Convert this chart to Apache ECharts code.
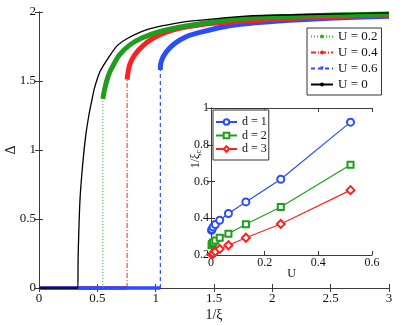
<!DOCTYPE html>
<html>
<head>
<meta charset="utf-8">
<script src="https://cdn.jsdelivr.net/npm/echarts@6/dist/echarts.min.js"></script>
<style>
  html, body { margin: 0; padding: 0; background: #fff; }
  #chart { width: 415px; height: 326px; }
</style>
</head>
<body>
<div id="chart"></div>
<script>
// main plot: Delta vs 1/xi
const curveU0 = [[0, 0], [0.333, 0], [0.335, 0.2], [0.341, 0.4], [0.352, 0.65], [0.375, 0.9], [0.4, 1.1],
  [0.427, 1.25], [0.453, 1.36], [0.476, 1.45], [0.524, 1.57], [0.604, 1.68], [0.675, 1.76], [0.761, 1.81],
  [0.919, 1.87], [1.09, 1.905], [1.26, 1.93], [1.5, 1.95], [1.78, 1.97], [2.2, 1.98], [2.6, 1.987], [3, 1.993]];
const curveU02 = [[0.547, 1.37], [0.56, 1.43], [0.58, 1.5], [0.604, 1.56], [0.64, 1.62], [0.69, 1.69],
  [0.776, 1.76], [0.876, 1.81], [1.03, 1.857], [1.2, 1.89], [1.5, 1.93], [1.78, 1.955], [2.2, 1.97],
  [2.6, 1.98], [3, 1.985]];
const curveU04 = [[0.755, 1.51], [0.776, 1.615], [0.819, 1.688], [0.89, 1.755], [0.976, 1.809],
  [1.09, 1.853], [1.204, 1.882], [1.49, 1.918], [2.06, 1.95], [2.5, 1.966], [3, 1.978]];
const curveU06 = [[1.04, 1.58], [1.047, 1.64], [1.09, 1.71], [1.16, 1.77], [1.26, 1.82], [1.347, 1.845],
  [1.633, 1.9], [2.06, 1.935], [2.49, 1.955], [3, 1.97]];
const jumpU02 = [[0.547, 0], [0.547, 1.37]];
const jumpU04 = [[0.755, 0], [0.755, 1.51]];
const jumpU06 = [[1.04, 0], [1.04, 1.58]];
const zeroU02 = [[0, 0], [0.547, 0]];
const zeroU04 = [[0, 0], [0.755, 0]];
const zeroU06 = [[0, 0], [1.04, 0]];
const mainXTicks = [0, 0.5, 1, 1.5, 2, 2.5, 3];
const mainYTicks = [0, 0.5, 1, 1.5, 2];

// inset: 1/xi_c vs U
const uVals = [0.002, 0.004, 0.008, 0.016, 0.0325, 0.065, 0.13, 0.26, 0.52];
const invXiD1 = [0.334, 0.34, 0.353, 0.366, 0.389, 0.426, 0.489, 0.612, 0.923];
const invXiD2 = [0.253, 0.26, 0.268, 0.279, 0.294, 0.316, 0.367, 0.461, 0.691];
const invXiD3 = [0.198, 0.202, 0.21, 0.219, 0.233, 0.253, 0.294, 0.369, 0.553];

const serif = "'Liberation Serif', 'DejaVu Serif', serif";
const axisColor = '#3a3a3a';
const blue = '#2a4bff';
const green = '#1d9e1d';
const red = '#ff1f1f';

const chart = echarts.init(document.getElementById('chart'), null, { renderer: 'canvas' });

const boxAxis = (extra) => Object.assign({
  type: 'value',
  axisLine: { show: true, lineStyle: { color: axisColor, width: 1 } },
  axisTick: { show: true, inside: true, length: 4, lineStyle: { color: axisColor } },
  splitLine: { show: false },
  nameMoveOverlap: false,
  axisLabel: { color: '#111', fontFamily: serif, fontSize: 13 }
}, extra);

const pairs = (xs, ys) => xs.map((x, i) => [x, ys[i]]);

const option = {
  animation: false,
  backgroundColor: '#fff',
  grid: [
    { left: 39, right: 26, top: 12, bottom: 38, outerBoundsMode: 'none', containLabel: false },
    { left: 211, top: 108, width: 161, height: 147, show: true, backgroundColor: '#fff', borderWidth: 0, z: 5,
      outerBoundsMode: 'none', containLabel: false }
  ],
  xAxis: [
    boxAxis({ gridIndex: 0, min: 0, max: 3, interval: 0.5, position: 'bottom',
      axisLabel: { color: '#111', fontFamily: serif, fontSize: 13, margin: 4,
        formatter: v => mainXTicks.includes(v) ? String(v) : '' },
      name: '1/ξ', nameLocation: 'middle', nameGap: 20,
      nameTextStyle: { color: '#111', fontFamily: serif, fontSize: 14 } }),
    boxAxis({ gridIndex: 0, min: 0, max: 3, interval: 0.5, position: 'top', axisLabel: { show: false } }),
    boxAxis({ gridIndex: 1, min: 0, max: 0.6, interval: 0.2, position: 'bottom', z: 6,
      axisLabel: { color: '#111', fontFamily: serif, fontSize: 12, margin: 2 },
      name: 'U', nameLocation: 'middle', nameGap: 13,
      nameTextStyle: { color: '#111', fontFamily: serif, fontSize: 12 } }),
    boxAxis({ gridIndex: 1, min: 0, max: 0.6, interval: 0.2, position: 'top', z: 6, axisLabel: { show: false } })
  ],
  yAxis: [
    boxAxis({ gridIndex: 0, min: 0, max: 2, interval: 0.5, position: 'left',
      axisLabel: { color: '#111', fontFamily: serif, fontSize: 13, margin: 3,
        formatter: v => mainYTicks.includes(v) ? String(v) : '' },
      name: 'Δ', nameLocation: 'middle', nameGap: 21,
      nameTextStyle: { color: '#111', fontFamily: serif, fontSize: 14 } }),
    boxAxis({ gridIndex: 0, min: 0, max: 2, interval: 0.5, position: 'right', axisLabel: { show: false } }),
    boxAxis({ gridIndex: 1, min: 0.2, max: 1, interval: 0.2, position: 'left', z: 6,
      axisLabel: { color: '#111', fontFamily: serif, fontSize: 12, margin: 2 } }),
    boxAxis({ gridIndex: 1, min: 0.2, max: 1, interval: 0.2, position: 'right', z: 6, axisLabel: { show: false } })
  ],
  graphic: [{
    type: 'text', left: 190, top: 150, rotation: Math.PI / 2, z: 10,
    style: {
      text: '1/ξ{s|c}', fill: '#111', font: '12px ' + serif,
      rich: { s: { fontSize: 8, fontFamily: serif, fill: '#111', verticalAlign: 'bottom', padding: [6, 0, 0, 0] } }
    }
  }],
  legend: [
    {
      data: ['U = 0.2', 'U = 0.4', 'U = 0.6', 'U = 0'],
      orient: 'vertical', left: 307, top: 28, itemWidth: 22, itemHeight: 5, itemGap: 3,
      padding: [2, 4, 4, 3], borderColor: '#333', borderWidth: 1, backgroundColor: '#fff',
      textStyle: { color: '#111', fontFamily: serif, fontSize: 13 }
    },
    {
      data: ['d = 1', 'd = 2', 'd = 3'],
      orient: 'vertical', left: 213, top: 110, itemWidth: 21, itemHeight: 7, itemGap: 1.5, z: 10,
      padding: [6, 2, 5, 2], borderColor: '#333', borderWidth: 1, backgroundColor: '#fff',
      textStyle: { color: '#111', fontFamily: serif, fontSize: 12 }
    }
  ],
  series: [
    // zero branches
    { name: 'z02', type: 'line', data: zeroU02, showSymbol: false, clip: false, lineStyle: { color: green, width: 3.5 } },
    { name: 'z04', type: 'line', data: zeroU04, showSymbol: false, clip: false, lineStyle: { color: red, width: 3.5 } },
    { name: 'z06', type: 'line', data: zeroU06, showSymbol: false, clip: false, lineStyle: { color: blue, width: 3.5 } },
    // jumps (legend entries)
    { name: 'U = 0.2', type: 'line', data: jumpU02, showSymbol: false, symbol: 'circle', symbolSize: 4,
      itemStyle: { color: '#33b233' }, lineStyle: { color: '#33b233', width: 1, type: [1, 2] } },
    { name: 'U = 0.4', type: 'line', data: jumpU04, showSymbol: false, symbol: 'circle', symbolSize: 4,
      itemStyle: { color: red }, lineStyle: { color: red, width: 1, type: [5, 2, 1, 2] } },
    { name: 'U = 0.6', type: 'line', data: jumpU06, showSymbol: false, symbol: 'triangle', symbolRotate: 180, symbolSize: 5,
      itemStyle: { color: blue }, lineStyle: { color: blue, width: 1.2, type: [4, 3] } },
    // upper branches
    { name: 'b06', type: 'line', data: curveU06, smooth: 0.3, showSymbol: false, lineStyle: { color: blue, width: 5 } },
    { name: 'b04', type: 'line', data: curveU04, smooth: 0.3, showSymbol: false, lineStyle: { color: red, width: 5 } },
    { name: 'b02', type: 'line', data: curveU02, smooth: 0.3, showSymbol: false, lineStyle: { color: green, width: 5 } },
    { name: 'U = 0', type: 'line', data: curveU0, smooth: 0.3, symbol: 'none', clip: false,
      itemStyle: { color: '#000' }, lineStyle: { color: '#000', width: 1.3 } },
    // inset
    { name: 'd = 1', type: 'line', xAxisIndex: 2, yAxisIndex: 2, data: pairs(uVals, invXiD1), z: 7,
      symbol: 'emptyCircle', symbolSize: 7, itemStyle: { color: blue, borderWidth: 1.2 },
      lineStyle: { color: blue, width: 1.2 } },
    { name: 'd = 2', type: 'line', xAxisIndex: 2, yAxisIndex: 2, data: pairs(uVals, invXiD2), z: 7,
      symbol: 'emptyRect', symbolSize: 6, itemStyle: { color: green, borderWidth: 1.2 },
      lineStyle: { color: green, width: 1.2 } },
    { name: 'd = 3', type: 'line', xAxisIndex: 2, yAxisIndex: 2, data: pairs(uVals, invXiD3), z: 7,
      symbol: 'emptyDiamond', symbolSize: 8, itemStyle: { color: red, borderWidth: 1.2 },
      lineStyle: { color: red, width: 1.2 } }
  ]
};

chart.setOption(option);
</script>
</body>
</html>
